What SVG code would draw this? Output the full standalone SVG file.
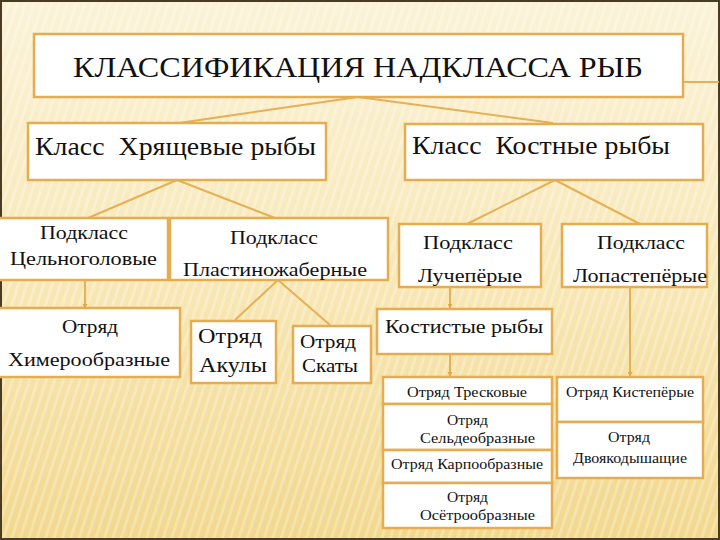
<svg xmlns="http://www.w3.org/2000/svg" width="720" height="540" viewBox="0 0 720 540">
<defs>
<linearGradient id="bg" x1="0" y1="0" x2="0" y2="1">
<stop offset="0" stop-color="#fbf2d8"/>
<stop offset="0.5" stop-color="#f8e8b8"/>
<stop offset="1" stop-color="#f2d88e"/>
</linearGradient>
<pattern id="stripes" width="8" height="40" patternUnits="userSpaceOnUse" patternTransform="rotate(18)">
<rect x="0" y="0" width="3" height="40" fill="#ffffff" opacity="0.25"/>
</pattern>
<marker id="arr" viewBox="0 0 6 6" refX="5" refY="3" markerWidth="5" markerHeight="5" orient="auto" markerUnits="userSpaceOnUse">
<path d="M0,0 L6,3 L0,6 z" fill="#e0a845"/>
</marker>
</defs>
<style>
.box{fill:#ffffff;stroke:#e6ad50;stroke-width:2.5}
.con{stroke:#e6b055;stroke-width:2;fill:none}
text{font-family:"Liberation Serif",Tinos,"Times New Roman",Times,"Nimbus Roman","Nimbus Roman No9 L",FreeSerif,"DejaVu Serif","Noto Serif",serif;fill:#111;text-anchor:middle}
.s{font-size:14px}
</style>
<rect x="0" y="0" width="720" height="540" fill="url(#bg)"/>
<rect x="0" y="0" width="720" height="540" fill="url(#stripes)"/>
<rect x="1" y="1" width="718" height="538" fill="none" stroke="#4a3c22" stroke-width="2"/>

<g id="connectors">
<line class="con" x1="683" y1="82" x2="719" y2="82"/>
<line class="con" x1="358" y1="97" x2="179" y2="123"/>
<line class="con" x1="358" y1="97" x2="553" y2="123"/>
<line class="con" x1="177" y1="180" x2="88" y2="218"/>
<line class="con" x1="177" y1="180" x2="275" y2="218"/>
<line class="con" x1="555" y1="180" x2="467" y2="224"/>
<line class="con" x1="555" y1="180" x2="640" y2="224"/>
<line class="con" x1="85" y1="280" x2="85" y2="308" marker-end="url(#arr)"/>
<line class="con" x1="278" y1="280" x2="235" y2="320"/>
<line class="con" x1="278" y1="280" x2="330" y2="325"/>
<line class="con" x1="450" y1="287" x2="450" y2="308" marker-end="url(#arr)"/>
<line class="con" x1="450" y1="354" x2="450" y2="376" marker-end="url(#arr)"/>
<line class="con" x1="630" y1="287" x2="630" y2="376" marker-end="url(#arr)"/>
</g>

<g id="title">
<rect class="box" x="34" y="34" width="649" height="63"/>
<text x="358" y="77" font-size="30" textLength="570" lengthAdjust="spacingAndGlyphs">КЛАССИФИКАЦИЯ НАДКЛАССА РЫБ</text>
</g>

<g id="class-cartilaginous">
<rect class="box" x="28" y="123" width="298" height="57"/>
<text x="175.5" y="155" font-size="26" textLength="281" lengthAdjust="spacingAndGlyphs" xml:space="preserve">Класс  Хрящевые рыбы</text>
</g>

<g id="class-bony">
<rect class="box" x="405" y="124" width="298" height="56"/>
<text x="541" y="154" font-size="26" textLength="258" lengthAdjust="spacingAndGlyphs" xml:space="preserve">Класс  Костные рыбы</text>
</g>

<g id="sub-holocephali">
<rect class="box" x="-3" y="218" width="171" height="62"/>
<text x="84" y="239" font-size="19" textLength="88" lengthAdjust="spacingAndGlyphs">Подкласс</text>
<text x="83.5" y="265" font-size="19" textLength="147" lengthAdjust="spacingAndGlyphs">Цельноголовые</text>
</g>

<g id="sub-elasmobranchii">
<rect class="box" x="170" y="218" width="218" height="62"/>
<text x="274" y="244" font-size="19" textLength="88" lengthAdjust="spacingAndGlyphs">Подкласс</text>
<text x="275" y="276" font-size="19" textLength="184" lengthAdjust="spacingAndGlyphs">Пластиножаберные</text>
</g>

<g id="sub-actinopterygii">
<rect class="box" x="399" y="224" width="142" height="63"/>
<text x="468" y="249" font-size="19" textLength="90" lengthAdjust="spacingAndGlyphs">Подкласс</text>
<text x="470" y="282" font-size="19" textLength="104" lengthAdjust="spacingAndGlyphs">Лучепёрые</text>
</g>

<g id="sub-sarcopterygii">
<rect class="box" x="562" y="224" width="145" height="63"/>
<text x="641" y="249" font-size="19" textLength="88" lengthAdjust="spacingAndGlyphs">Подкласс</text>
<text x="640" y="282" font-size="19" textLength="134" lengthAdjust="spacingAndGlyphs">Лопастепёрые</text>
</g>

<g id="order-chimaeras">
<rect class="box" x="-3" y="308" width="183" height="69"/>
<text x="90" y="333" font-size="19" textLength="56" lengthAdjust="spacingAndGlyphs">Отряд</text>
<text x="89" y="366" font-size="19" textLength="162" lengthAdjust="spacingAndGlyphs">Химерообразные</text>
</g>

<g id="order-sharks">
<rect class="box" x="191" y="321" width="85" height="62"/>
<text x="230" y="343" font-size="22" textLength="64" lengthAdjust="spacingAndGlyphs">Отряд</text>
<text x="233" y="372" font-size="22" textLength="68" lengthAdjust="spacingAndGlyphs">Акулы</text>
</g>

<g id="order-rays">
<rect class="box" x="293" y="326" width="78" height="57"/>
<text x="328" y="348" font-size="19" textLength="56" lengthAdjust="spacingAndGlyphs">Отряд</text>
<text x="330" y="372" font-size="19" textLength="56" lengthAdjust="spacingAndGlyphs">Скаты</text>
</g>

<g id="teleostei">
<rect class="box" x="377" y="309" width="175" height="45"/>
<text x="464" y="333" font-size="19" textLength="158" lengthAdjust="spacingAndGlyphs">Костистые рыбы</text>
</g>

<g id="order-gadiformes">
<rect class="box" x="383" y="377" width="169" height="27"/>
<text class="s" x="467" y="397" textLength="120" lengthAdjust="spacingAndGlyphs">Отряд Тресковые</text>
</g>

<g id="order-clupeiformes">
<rect class="box" x="383" y="404" width="169" height="46"/>
<text class="s" x="467.5" y="425" textLength="41" lengthAdjust="spacingAndGlyphs">Отряд</text>
<text class="s" x="477.5" y="443" textLength="115" lengthAdjust="spacingAndGlyphs">Сельдеобразные</text>
</g>

<g id="order-cypriniformes">
<rect class="box" x="383" y="450" width="169" height="33"/>
<text class="s" x="467" y="469" textLength="152" lengthAdjust="spacingAndGlyphs">Отряд Карпообразные</text>
</g>

<g id="order-acipenseriformes">
<rect class="box" x="383" y="483" width="169" height="45"/>
<text class="s" x="467.5" y="502" textLength="41" lengthAdjust="spacingAndGlyphs">Отряд</text>
<text class="s" x="477.5" y="520" textLength="115" lengthAdjust="spacingAndGlyphs">Осётрообразные</text>
</g>

<g id="order-coelacanthiformes">
<rect class="box" x="557" y="377" width="146" height="45"/>
<text class="s" x="630" y="397" textLength="128" lengthAdjust="spacingAndGlyphs">Отряд Кистепёрые</text>
</g>

<g id="order-dipnoi">
<rect class="box" x="557" y="422" width="146" height="56"/>
<text class="s" x="629" y="442" textLength="42" lengthAdjust="spacingAndGlyphs">Отряд</text>
<text class="s" x="630" y="463" textLength="114" lengthAdjust="spacingAndGlyphs">Двоякодышащие</text>
</g>
</svg>
